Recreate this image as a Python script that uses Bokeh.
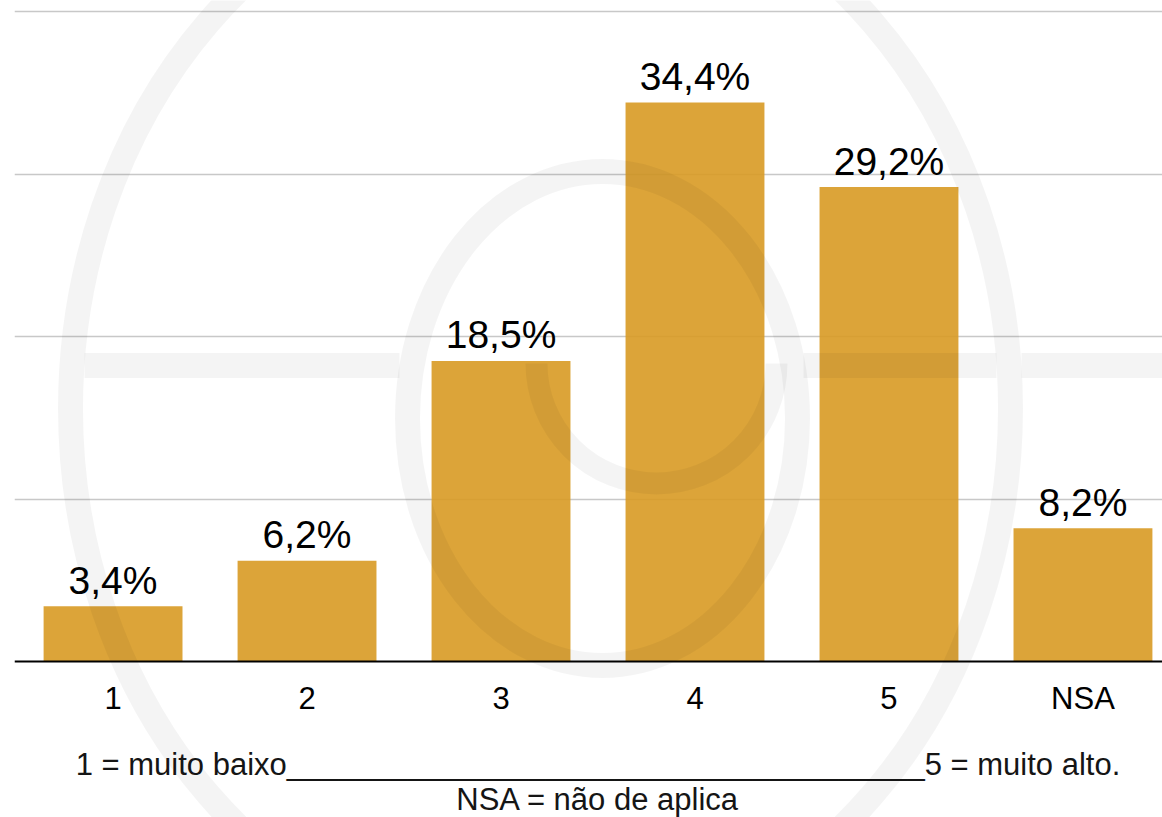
import math
from bokeh.plotting import figure
from bokeh.models import Range1d, FixedTicker
from bokeh.embed import file_html
from bokeh.resources import INLINE
from bokeh.core.properties import value

# ---- data ----
categories = ["1", "2", "3", "4", "5", "NSA"]
percentages = [3.4, 6.2, 18.5, 34.4, 29.2, 8.2]
grid_ticks = [10, 20, 30, 40]
scale_note = "1 = muito baixo" + "_" * 37 + "5 = muito alto."
nsa_note = "NSA = não de aplica"

positions = [i + 0.5 for i in range(len(categories))]
labels = [f"{v:.1f}".replace(".", ",") + "%" for v in percentages]
label_gap = 1.6  # data units between bar top and label anchor
label_y = [v + label_gap for v in percentages]

FONT = "Liberation Sans"
BAR = "#D89A24"
WM = "#000000"
WM_ALPHA = 0.042

p = figure(width=1162, height=817,
           x_range=Range1d(-0.008, 5.910), y_range=Range1d(-9.6, 40.677),
           output_backend="svg", toolbar_location=None,
           min_border_left=14, min_border_right=0, min_border_top=0, min_border_bottom=0)
# pixel-like decorative coordinate system for the watermark and notes
p.extra_x_ranges = {"px": Range1d(14, 1162)}
p.extra_y_ranges = {"px": Range1d(817, 0)}
p.outline_line_color = None
p.background_fill_color = "white"
p.border_fill_color = "white"

p.xgrid.visible = False
p.yaxis.visible = False
p.yaxis.ticker = FixedTicker(ticks=grid_ticks)
p.ygrid.ticker = FixedTicker(ticks=grid_ticks)
p.ygrid.grid_line_color = "#c8c8c8"
p.ygrid.grid_line_width = 1.3

ax = p.xaxis[0]
ax.fixed_location = 0
ax.ticker = FixedTicker(ticks=positions)
ax.major_label_overrides = {pos: cat for pos, cat in zip(positions, categories)}
ax.axis_line_color = "black"
ax.axis_line_width = 2
ax.major_tick_line_color = None
ax.minor_tick_line_color = None
ax.major_tick_out = 0
ax.major_tick_in = 0
ax.major_label_standoff = 19
ax.major_label_text_font = FONT
ax.major_label_text_font_size = "31px"
ax.major_label_text_color = "black"

# bars
p.vbar(x=positions, top=percentages, bottom=0, width=0.716,
       fill_color=BAR, fill_alpha=0.9, line_color=None)

# watermark (decorative logo)
p.ellipse(x=540, y=408, width=940, height=1092, fill_color=None,
          line_color=WM, line_alpha=WM_ALPHA, line_width=25,
          x_range_name="px", y_range_name="px")
p.ellipse(x=602, y=418, width=390, height=494, fill_color=None,
          line_color=WM, line_alpha=WM_ALPHA, line_width=25,
          x_range_name="px", y_range_name="px")
p.segment(x0=[84, 803, 1021], y0=[365, 365, 365], x1=[399, 996, 1170], y1=[365, 365, 365],
          line_color=WM, line_alpha=WM_ALPHA, line_width=25, line_cap="butt",
          x_range_name="px", y_range_name="px")
p.arc(x=656, y=363, radius=120, start_angle=math.pi, end_angle=2 * math.pi,
      direction="anticlock", line_color=WM, line_alpha=WM_ALPHA, line_width=22,
      x_range_name="px", y_range_name="px")

# value labels
p.text(x=positions, y=label_y, text=labels, text_font=value(FONT),
       text_font_size="39px", text_align="center", text_baseline="alphabetic",
       text_color="black")

# notes below the axis
p.text(x=[597.5, 597.5], y=[764, 799], text=[scale_note, nsa_note],
       text_font=value(FONT), text_font_size="31px", text_align="center",
       text_baseline="alphabetic", text_color="#151515",
       x_range_name="px", y_range_name="px")

open("out.html", "w").write(file_html(p, INLINE))
